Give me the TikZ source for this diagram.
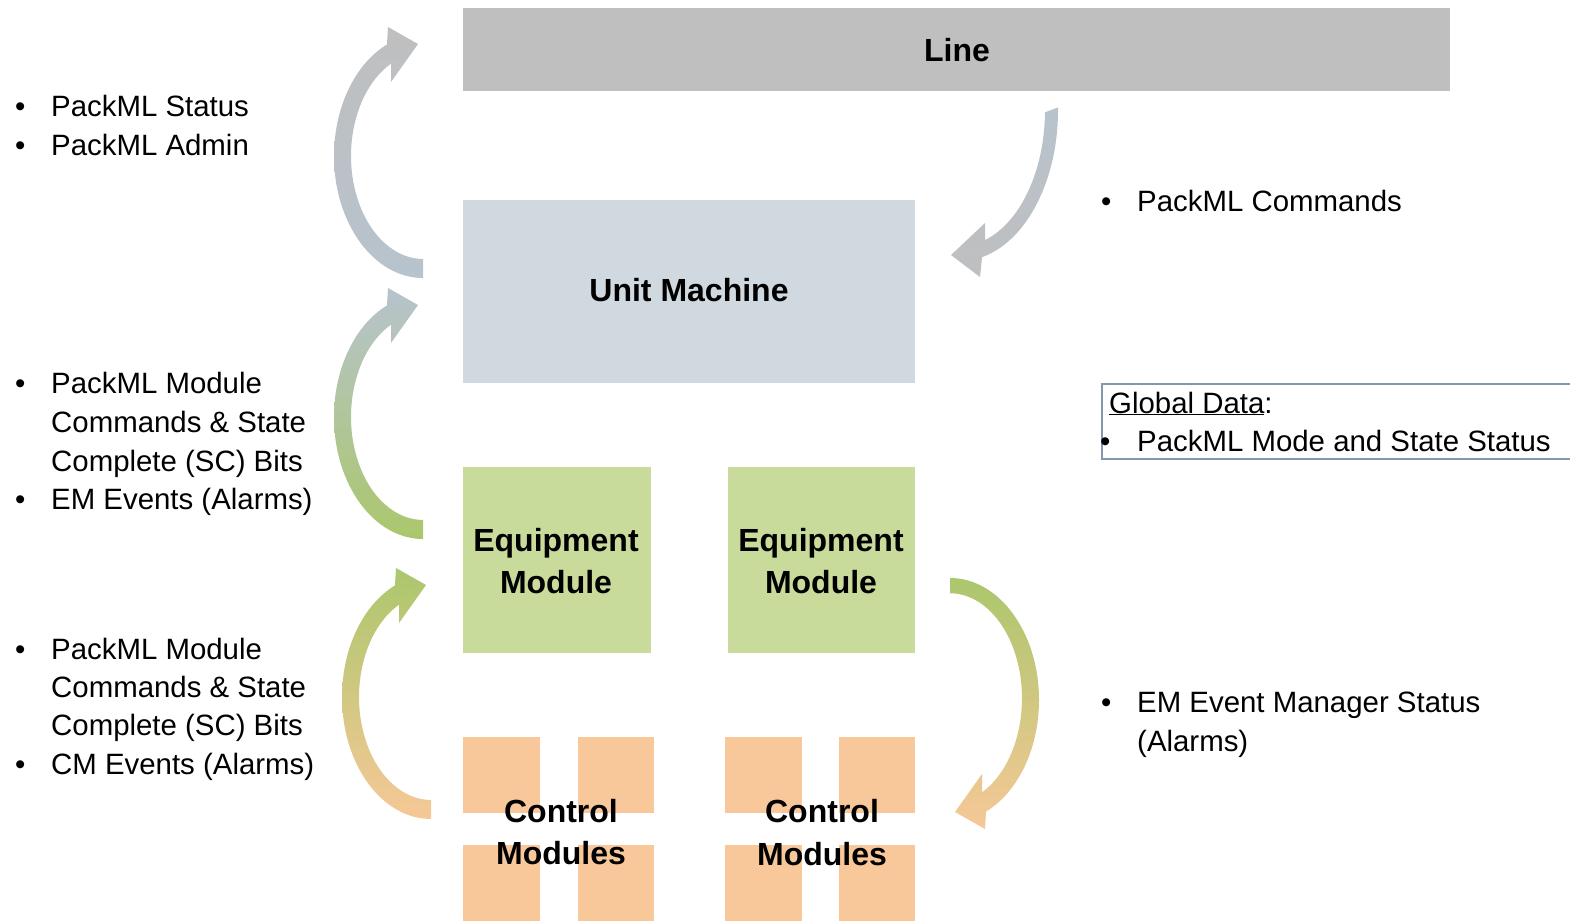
\documentclass[tikz,border=0pt]{standalone}
\usepackage{fontspec}
\setmainfont{Liberation Sans}
\definecolor{linegray}{HTML}{BFBFBF}
\definecolor{unitblue}{HTML}{D0D8E0}
\definecolor{emgreen}{HTML}{C9DB9B}
\definecolor{cmorange}{HTML}{F9C89A}
\definecolor{gdborder}{HTML}{8497B0}
\definecolor{agray}{HTML}{BFBFBF}
\definecolor{ablue}{HTML}{B7C3CD}
\definecolor{agreen}{HTML}{ABC76C}
\definecolor{apeach}{HTML}{F6C897}
\begin{document}
\begin{tikzpicture}[x=1pt,y=-1pt,
  txt/.style={font=\fontsize{29.4}{35}\selectfont, inner sep=0pt, anchor=base west},
  btxt/.style={font=\fontsize{32}{38}\selectfont\bfseries, inner sep=0pt, anchor=base},
  blk/.style={draw=none, inner sep=0pt, anchor=north west}]
\useasboundingbox (0,0) rectangle (1570,921);

% boxes
\node[blk, fill=linegray, minimum width=987pt, minimum height=83pt] (line) at (463,8) {};
\node[blk, fill=unitblue, minimum width=452pt, minimum height=183pt] (unit) at (463,200) {};
\node[blk, fill=emgreen, minimum width=188pt, minimum height=186pt] (em1) at (463,467) {};
\node[blk, fill=emgreen, minimum width=187pt, minimum height=186pt] (em2) at (728,467) {};
\node[blk, fill=cmorange, minimum width=77pt, minimum height=76pt] (cm1a) at (463,737) {};
\node[blk, fill=cmorange, minimum width=76pt, minimum height=76pt] (cm1b) at (578,737) {};
\node[blk, fill=cmorange, minimum width=77pt, minimum height=76pt] (cm1c) at (463,845) {};
\node[blk, fill=cmorange, minimum width=76pt, minimum height=76pt] (cm1d) at (578,845) {};
\node[blk, fill=cmorange, minimum width=77pt, minimum height=76pt] (cm2a) at (725,737) {};
\node[blk, fill=cmorange, minimum width=76pt, minimum height=76pt] (cm2b) at (839,737) {};
\node[blk, fill=cmorange, minimum width=77pt, minimum height=76pt] (cm2c) at (725,845) {};
\node[blk, fill=cmorange, minimum width=76pt, minimum height=76pt] (cm2d) at (839,845) {};

% box labels
\node[btxt] (tline) at (957,61) {Line};
\node[btxt] (tunit) at (689,301) {Unit Machine};
\node[btxt] (tem1a) at (556,551) {Equipment};
\node[btxt] (tem1b) at (556,593) {Module};
\node[btxt] (tem2a) at (821,551) {Equipment};
\node[btxt] (tem2b) at (821,593) {Module};
\node[btxt] (tcm1a) at (561,822) {Control};
\node[btxt] (tcm1b) at (561,864) {Modules};
\node[btxt] (tcm2a) at (822,822) {Control};
\node[btxt] (tcm2b) at (822,865) {Modules};

% left arrows
\begin{scope}[shift={(423,156)}]
\shade[top color=agray,bottom color=ablue] (0,122)
  arc[start angle=90,end angle=246.1,x radius=89,y radius=122]
  -- (-35,-129) -- (-5,-112) -- (-32,-74) -- (-32,-92.3)
  arc[start angle=243.6,end angle=90,x radius=72,y radius=103] -- cycle;
\end{scope}
\begin{scope}[shift={(423,417)}]
\shade[top color=ablue,bottom color=agreen] (0,122)
  arc[start angle=90,end angle=246.1,x radius=89,y radius=122]
  -- (-35,-129) -- (-5,-112) -- (-32,-74) -- (-32,-92.3)
  arc[start angle=243.6,end angle=90,x radius=72,y radius=103] -- cycle;
\end{scope}
\begin{scope}[shift={(431,697)}]
\shade[top color=agreen,bottom color=apeach] (0,122)
  arc[start angle=90,end angle=246.1,x radius=89,y radius=122]
  -- (-35,-129) -- (-5,-112) -- (-32,-74) -- (-32,-92.3)
  arc[start angle=243.6,end angle=90,x radius=72,y radius=103] -- cycle;
\end{scope}
% right arrows
\shade[top color=ablue,bottom color=agray] (1058,107.4)
  arc[start angle=-1,end angle=77,x radius=98,y radius=151]
  -- (980,277) -- (951,255) -- (985,223) -- (985,240)
  arc[start angle=72.9,end angle=1,x radius=85,y radius=136] -- cycle;
\begin{scope}[shift={(950,700)}]
\shade[top color=agreen,bottom color=apeach] (0,-122)
  arc[start angle=270,end angle=426.1,x radius=89,y radius=122]
  -- (35,129) -- (5,112) -- (32,74) -- (32,92.3)
  arc[start angle=423.6,end angle=270,x radius=72,y radius=105] -- cycle;
\end{scope}

% left texts
\node[txt] (b1) at (15,116) {•};
\node[txt] (l1) at (51,116) {PackML Status};
\node[txt] (b2) at (15,155) {•};
\node[txt] (l2) at (51,155) {PackML Admin};

\node[txt] (b3) at (15,393) {•};
\node[txt] (l3) at (51,393) {PackML Module};
\node[txt] (l4) at (51,432) {Commands \& State};
\node[txt] (l5) at (51,471) {Complete (SC) Bits};
\node[txt] (b4) at (15,509) {•};
\node[txt] (l6) at (51,509) {EM Events (Alarms)};

\node[txt] (b5) at (15,659) {•};
\node[txt] (l7) at (51,659) {PackML Module};
\node[txt] (l8) at (51,697) {Commands \& State};
\node[txt] (l9) at (51,735) {Complete (SC) Bits};
\node[txt] (b6) at (15,774) {•};
\node[txt] (l10) at (51,774) {CM Events (Alarms)};

% right texts
\node[txt] (b7) at (1101,211) {•};
\node[txt] (r1) at (1137,211) {PackML Commands};
\node[txt] (b8) at (1101,712) {•};
\node[txt] (r2) at (1137,712) {EM Event Manager Status};
\node[txt] (r3) at (1137,751) {(Alarms)};

% global data
\node[blk, draw=gdborder, line width=1.6pt, minimum width=520pt, minimum height=75pt] (gd) at (1101,383) {};
\node[txt] (gd1) at (1109,413) {\underline{Global Data}:};
\node[txt] (b9) at (1100,451) {•};
\node[txt] (gd2) at (1137,451) {PackML Mode and State Status};
\end{tikzpicture}
\end{document}
